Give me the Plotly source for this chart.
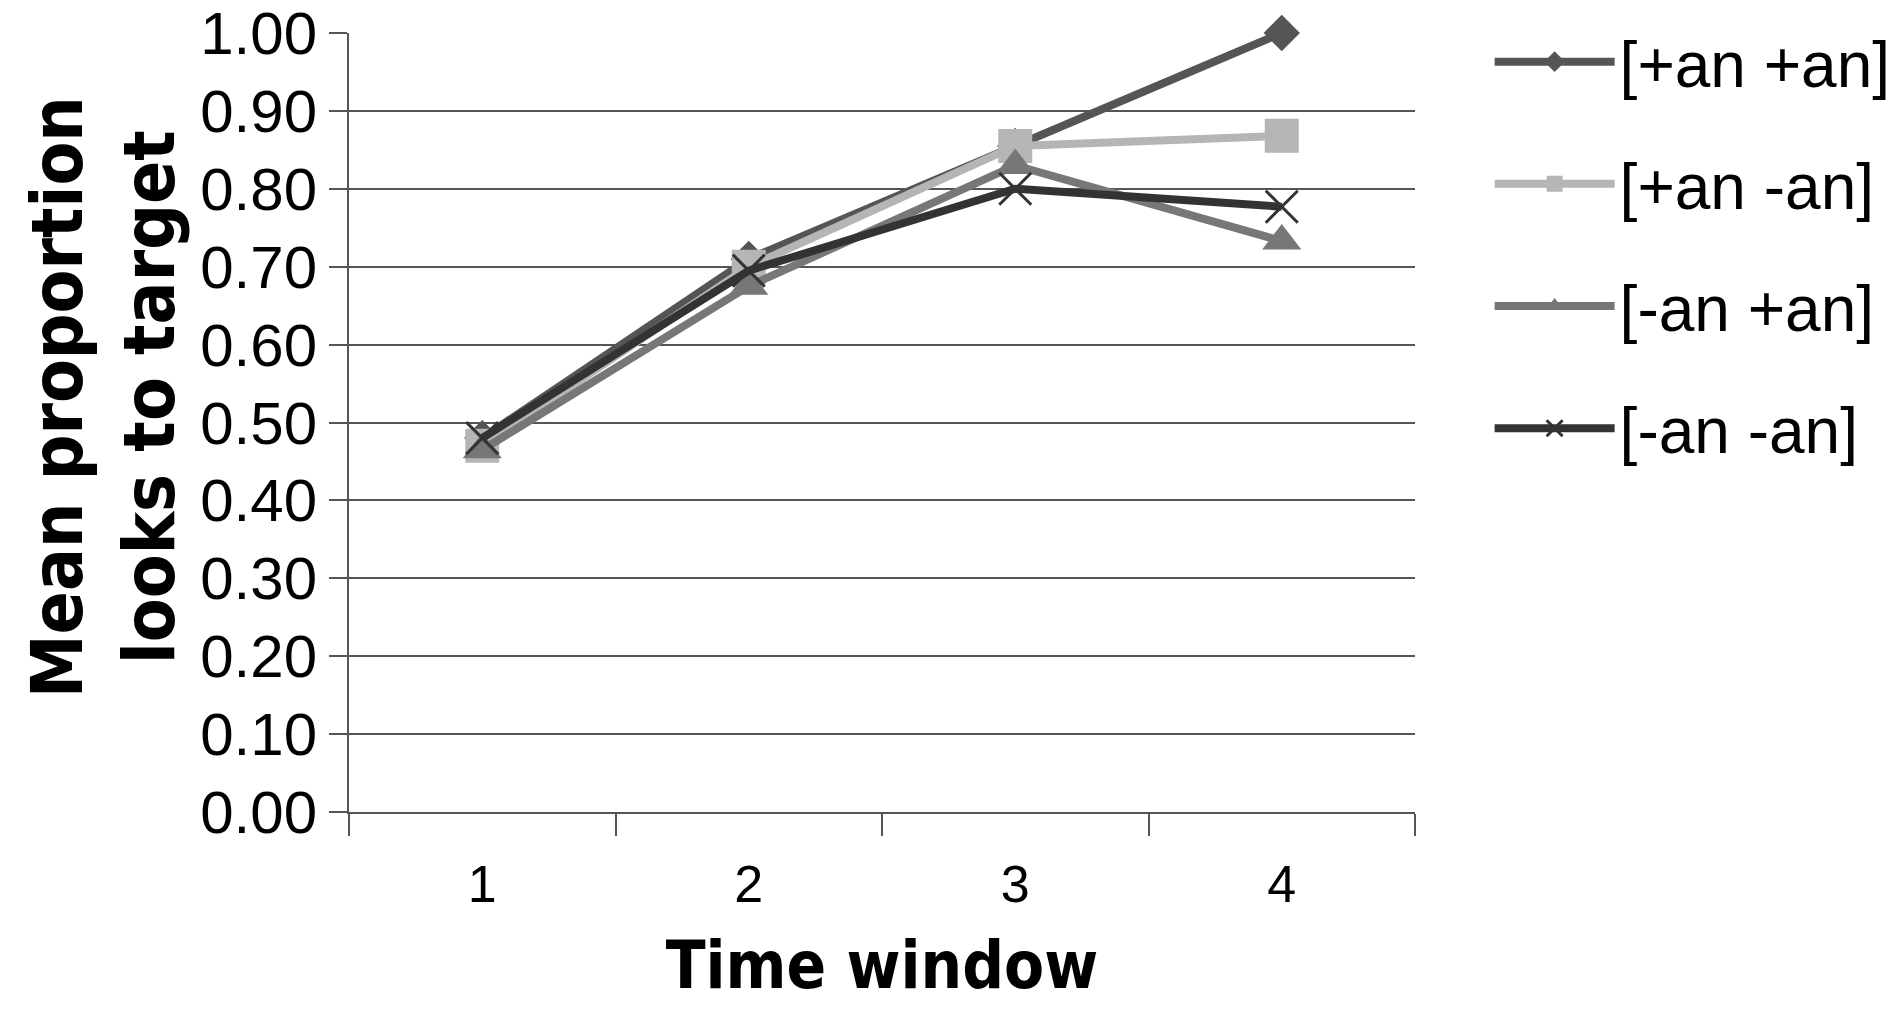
import plotly.graph_objects as go

categories = ["1", "2", "3", "4"]
series_names = ["[+an +an]", "[+an -an]", "[-an +an]", "[-an -an]"]
pp_values = [0.48, 0.71, 0.855, 1.00]
pm_values = [0.47, 0.70, 0.855, 0.868]
mp_values = [0.465, 0.675, 0.83, 0.733]
mm_values = [0.48, 0.695, 0.80, 0.777]
y_tick_vals = [0.0, 0.1, 0.2, 0.3, 0.4, 0.5, 0.6, 0.7, 0.8, 0.9, 1.0]
y_tick_text = ["0.00", "0.10", "0.20", "0.30", "0.40", "0.50", "0.60", "0.70", "0.80", "0.90", "1.00"]

styles = [
    dict(color="#555555", symbol="diamond", size=28, lw=8),
    dict(color="#b5b5b5", symbol="square", size=34, lw=8),
    dict(color="#777777", symbol="triangle-up", size=34, lw=8),
    dict(color="#333333", symbol="x-thin", size=32, lw=8),
]
all_values = [pp_values, pm_values, mp_values, mm_values]

fig = go.Figure()
for name, vals, st in zip(series_names, all_values, styles):
    marker = dict(symbol=st["symbol"], size=st["size"], color=st["color"])
    if st["symbol"] == "x-thin":
        marker["line"] = dict(color=st["color"], width=3)
    fig.add_trace(go.Scatter(
        x=categories, y=vals, name=name, mode="lines+markers",
        line=dict(color=st["color"], width=st["lw"]),
        marker=marker, cliponaxis=False, legendgroup=name,
    ))

# page body has an 8px default margin, so the figure is 16px smaller
W, H = 1884, 1002
L, R, T, B = 341, 477, 25, 198
PW, PH = W - L - R, H - T - B

title_font = "DejaVu Sans Condensed, Liberation Sans Narrow, Arial Narrow, sans-serif"

fig.update_layout(
    width=W, height=H,
    margin=dict(l=L, r=R, t=T, b=B, autoexpand=False),
    paper_bgcolor="white", plot_bgcolor="white",
    font=dict(family="Liberation Sans, Arial, sans-serif", color="black"),
    showlegend=True,
    legend=dict(
        x=1.07, y=1.025, xanchor="left", yanchor="top",
        font=dict(size=64, family="Liberation Sans, Arial, sans-serif", color="black"),
        tracegroupgap=36, itemwidth=120,
    ),
    xaxis=dict(
        type="category", range=[-0.5, 3.5], tickson="boundaries", ticks="outside", ticklen=22,
        tickcolor="#555", tickwidth=2, showline=True, linecolor="#555", linewidth=2,
        showgrid=False, tickfont=dict(size=52), ticklabelstandoff=26,
        title=dict(text="<b>Time window</b>", font=dict(size=65, family=title_font), standoff=30),
    ),
    yaxis=dict(
        range=[0, 1], tickvals=y_tick_vals, ticktext=y_tick_text,
        ticks="outside", ticklen=18, tickcolor="#555", tickwidth=2,
        showline=True, linecolor="#555", linewidth=2,
        showgrid=True, gridcolor="#555", gridwidth=2, zeroline=False,
        tickfont=dict(size=60), ticklabeloverflow="allow",
    ),
    annotations=[dict(
        text="<b>Mean proportion<br>looks to target</b>", textangle=-90,
        xref="paper", yref="paper", x=(95 - L) / PW, y=(H - B - 389) / PH,
        xanchor="center", yanchor="middle", showarrow=False,
        font=dict(size=71, family=title_font, color="black"),
    )],
)

fig.write_html("out.html")
